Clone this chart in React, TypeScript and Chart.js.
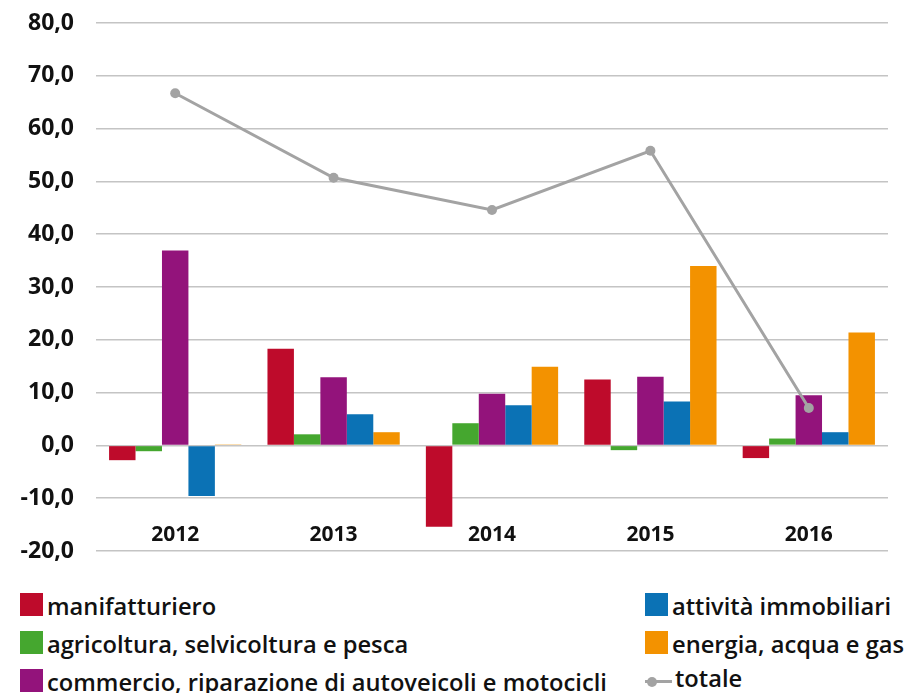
import React, { useEffect, useRef } from "react";
import { Chart, registerables } from "chart.js";

Chart.register(...registerables);

const categories = ["2012", "2013", "2014", "2015", "2016"];
const manifatturiero = [-2.8, 18.3, -15.4, 12.5, -2.4];
const agricoltura = [-1.1, 2.1, 4.2, -0.9, 1.3];
const commercio = [36.9, 12.9, 9.8, 13.0, 9.5];
const immobiliari = [-9.6, 5.9, 7.6, 8.3, 2.5];
const energia = [0.2, 2.5, 14.9, 34.0, 21.4];
const totale = [66.7, 50.7, 44.6, 55.8, 7.1];

const seriesNames = [
  "manifatturiero",
  "agricoltura, selvicoltura e pesca",
  "commercio, riparazione di autoveicoli e motocicli",
  "attività immobiliari",
  "energia, acqua e gas",
  "totale",
];
const colors = ["#be0b2b", "#45a72f", "#93137b", "#0b72b5", "#f39200", "#a3a3a3"];

const FONT = "'Open Sans', 'Noto Sans', sans-serif";

const xLabelsPlugin = {
  id: "xLabelsInside",
  afterDraw(chart: any) {
    const { ctx, scales, chartArea } = chart;
    const xs = scales.x;
    ctx.save();
    ctx.font = `bold 21px ${FONT}`;
    ctx.fillStyle = "#111";
    ctx.textAlign = "center";
    ctx.textBaseline = "middle";
    categories.forEach((c, i) => {
      ctx.fillText(c, xs.getPixelForValue(i), chartArea.bottom - 16);
    });
    ctx.restore();
  },
};

export default function App() {
  const ref = useRef<HTMLCanvasElement>(null);

  useEffect(() => {
    if (!ref.current) return;
    const barData = [manifatturiero, agricoltura, commercio, immobiliari, energia];
    const chart = new Chart(ref.current, {
      type: "bar",
      data: {
        labels: categories,
        datasets: [
          {
            type: "line",
            label: seriesNames[5],
            data: totale,
            borderColor: colors[5],
            backgroundColor: colors[5],
            borderWidth: 3,
            pointRadius: 5,
            pointBackgroundColor: colors[5],
            pointBorderWidth: 0,
            tension: 0,
            order: 0,
          } as any,
          ...barData.map((d, i) => ({
            type: "bar" as const,
            label: seriesNames[i],
            data: d,
            backgroundColor: colors[i],
            borderWidth: 0,
            barPercentage: 1,
            categoryPercentage: 0.835,
            order: 1,
          })),
        ],
      },
      options: {
        responsive: false,
        animation: false,
        layout: { padding: { left: 0, right: 23, top: 23, bottom: 29 } },
        plugins: { legend: { display: false }, tooltip: { enabled: false } },
        scales: {
          x: {
            display: false,
          },
          y: {
            min: -20,
            max: 80,
            grid: {
              color: "#c4c4c4",
              lineWidth: 1.5,
              drawTicks: true,
              tickLength: 22,
              tickColor: "rgba(0,0,0,0)",
            },
            border: { display: false },
            ticks: {
              stepSize: 10,
              padding: 0,
              color: "#111",
              font: { family: FONT, size: 23, weight: "bold" },
              callback: (v: any) => Number(v).toFixed(1).replace(".", ","),
            },
            afterFit: (s: any) => {
              s.width = 96;
            },
          },
        },
      },
      plugins: [xLabelsPlugin],
    });
    return () => chart.destroy();
  }, []);

  const rows = [
    { x: 20, top: 593, i: 0 },
    { x: 20, top: 631, i: 1 },
    { x: 20, top: 669, i: 2 },
    { x: 645, top: 593, i: 3 },
    { x: 645, top: 631, i: 4 },
  ];

  const textStyle: React.CSSProperties = {
    position: "absolute",
    fontFamily: FONT,
    fontWeight: 600,
    fontSize: 23.7,
    lineHeight: "23.7px",
    color: "#111",
    whiteSpace: "nowrap",
  };

  return (
    <div
      style={{
        position: "absolute",
        left: 0,
        top: 0,
        width: 911,
        height: 693,
        background: "#fff",
        overflow: "hidden",
      }}
    >
      <canvas ref={ref} width={911} height={580} style={{ display: "block" }} />
      {rows.map((r) => (
        <React.Fragment key={r.i}>
          <div
            style={{
              position: "absolute",
              left: r.x,
              top: r.top,
              width: 23,
              height: 23,
              background: colors[r.i],
            }}
          />
          <div style={{ ...textStyle, left: r.x + 27, top: r.top + 23 - 21 }}>
            {seriesNames[r.i]}
          </div>
        </React.Fragment>
      ))}
      <div
        style={{
          position: "absolute",
          left: 645,
          top: 680,
          width: 27,
          height: 3,
          background: colors[5],
        }}
      />
      <div
        style={{
          position: "absolute",
          left: 647,
          top: 676.5,
          width: 10,
          height: 10,
          borderRadius: 5,
          background: colors[5],
        }}
      />
      <div style={{ ...textStyle, left: 675, top: 688 - 21 }}>{seriesNames[5]}</div>
    </div>
  );
}
